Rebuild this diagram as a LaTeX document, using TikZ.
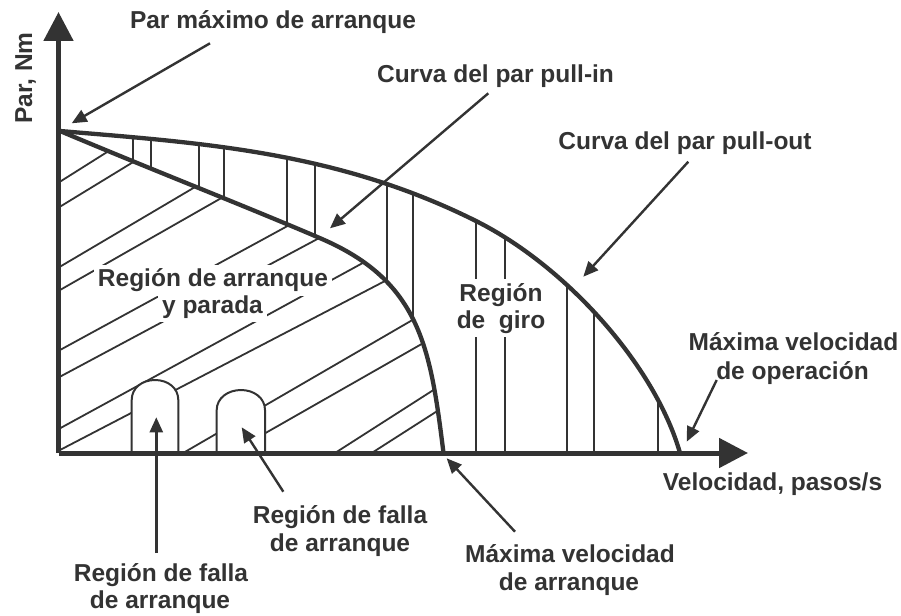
\documentclass[tikz,border=0pt]{standalone}
\usepackage{fontspec}
\setmainfont{Liberation Sans}
\usetikzlibrary{arrows.meta}
\definecolor{ink}{HTML}{333333}
\begin{document}
\begin{tikzpicture}[x=1pt,y=-1pt,
  lbl/.style={font=\fontsize{24.5}{27}\selectfont\bfseries, text=ink, inner sep=0pt, anchor=base},
  boxlbl/.style={lbl, fill=white, inner sep=4pt},
  hatch/.style={draw=ink, line width=1.8pt},
  curve/.style={draw=ink, line width=4.3pt, line cap=round, line join=round},
  axis/.style={draw=ink, line width=5pt, -{Triangle[length=29pt,width=29pt]}},
  pointer/.style={draw=ink, line width=2.4pt, -{Triangle[length=15pt,width=13pt]}},
  hump/.style={draw=ink, fill=white, line width=2pt}
]
\fill[white] (0,0) rectangle (901,615);
\useasboundingbox (0,0) rectangle (901,615);

% vertical hatching between the curves
\begin{scope}
  \clip (60,131) .. controls (200,142.9) and (336,151) .. (476,221)
        .. controls (566,266) and (655,365.5) .. (680,453) -- (60,453) -- cycle;
  \foreach \x in {132.7,150.7,199,224,287,315,387,413,476,505,567,594,658}
    \draw[hatch] (\x,100) -- (\x,470);
\end{scope}
% blank the start/stop region, then diagonal hatching
\fill[white] (60,131) .. controls (150,169) and (250,208) .. (322,239)
        .. controls (421,282) and (430.5,349) .. (443.5,453) -- (60,453) -- cycle;
\begin{scope}
  \clip (60,131) .. controls (150,169) and (250,208) .. (322,239)
        .. controls (421,282) and (430.5,349) .. (443.5,453) -- (60,453) -- cycle;
  \foreach \xa/\ya/\m in {60/181.7/0.63, 60/206.7/0.61, 60/266.7/0.59, 60/290/0.57,
      60/350/0.545, 60/376.7/0.535, 60/428.3/0.546, 60/450/0.52,
      188.3/450/0.58, 265/433.3/0.57, 335/453/0.64, 371.7/453/0.64}
    \draw[hatch] (40,{\ya+\m*(\xa-40)}) -- (480,{\ya-\m*(480-\xa)});
\end{scope}

% start failure regions
\path[hump] (131.7,455) -- (131.7,400) .. controls (131.7,388) and (142,380) .. (155,380)
  .. controls (168,380) and (178.3,388) .. (178.3,400) -- (178.3,455);
\path[hump] (216.7,455) -- (216.7,410) .. controls (216.7,398) and (228,390) .. (241,390)
  .. controls (254,390) and (265,398) .. (265,410) -- (265,455);

% torque curves
\draw[curve] (60,131) .. controls (200,142.9) and (336,151) .. (476,221)
        .. controls (566,266) and (655,365.5) .. (680,453);
\draw[curve] (60,131) .. controls (150,169) and (250,208) .. (322,239)
        .. controls (421,282) and (430.5,349) .. (443.5,453);

% axes
\coordinate (O) at (58.5,453);
\coordinate (ytip) at (58.5,12);
\coordinate (xtip) at (748,453);
\draw[axis] (O) -- (ytip);
\draw[axis] (O) -- (xtip);

% labels
\node[lbl, rotate=90] (ylab) at (32,78) {Par, Nm};
\node[lbl] (tpar) at (273,29) {Par máximo de arranque};
\node[lbl] (tin) at (495.5,83) {Curva del par pull-in};
\node[lbl] (tout) at (685,149.3) {Curva del par pull-out};
\node[boxlbl] (tarr1) at (213,286.7) {Región de arranque};
\node[boxlbl] (tarr2) at (212.5,313.3) {y parada};
\node[boxlbl] (tgiro1) at (501,301) {Región};
\node[boxlbl] (tgiro2) at (501,328.3) {de\ \ giro};
\node[lbl] (top1) at (793.5,350.7) {Máxima velocidad};
\node[lbl] (top2) at (792.5,379) {de operación};
\node[lbl] (tvel) at (772.5,490) {Velocidad, pasos/s};
\node[lbl] (tf21) at (340,523.3) {Región de falla};
\node[lbl] (tf22) at (340,551.7) {de arranque};
\node[lbl] (tf11) at (161,581.7) {Región de falla};
\node[lbl] (tf12) at (160,608.3) {de arranque};
\node[lbl] (tma1) at (570,562.7) {Máxima velocidad};
\node[lbl] (tma2) at (569,590) {de arranque};

% pointers
\coordinate (a1s) at (210,43.3);   \coordinate (a1e) at (71.7,123.3);
\coordinate (a2s) at (488.3,93.3); \coordinate (a2e) at (330,228.3);
\coordinate (a3s) at (688.3,161.7);\coordinate (a3e) at (583.3,276.7);
\coordinate (a4s) at (716.7,380);  \coordinate (a4e) at (686.7,441.7);
\coordinate (a5s) at (515,531.7);  \coordinate (a5e) at (446.7,458.3);
\coordinate (a6s) at (283.3,491.7);\coordinate (a6e) at (241.7,427.3);
\coordinate (a7s) at (156.3,553);  \coordinate (a7e) at (156.3,417.3);
\draw[pointer] (a1s) -- (a1e);
\draw[pointer] (a2s) -- (a2e);
\draw[pointer] (a3s) -- (a3e);
\draw[pointer] (a4s) -- (a4e);
\draw[pointer] (a5s) -- (a5e);
\draw[pointer] (a6s) -- (a6e);
\draw[pointer] (a7s) -- (a7e);
\end{tikzpicture}
\end{document}
